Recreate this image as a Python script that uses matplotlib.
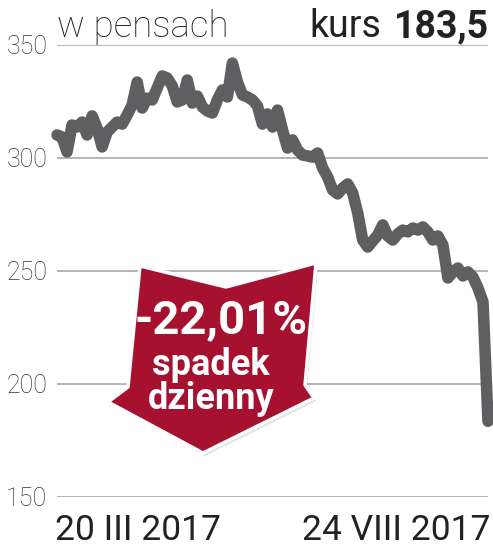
import matplotlib
matplotlib.use("Agg")
import matplotlib.pyplot as plt
import matplotlib.transforms as mtransforms
from matplotlib.patches import Polygon

plt.rcParams['font.family'] = ['Roboto', 'DejaVu Sans']

# kurs w pensach, 20 III 2017 - 24 VIII 2017
kurs = [310.2, 309.3, 302.7, 314.6, 313.7, 315.9, 310.2, 318.6, 313.3, 304.9,
        311.5, 313.7, 315.9, 315.0, 319.0, 323.5, 333.6, 322.1, 326.5, 325.7,
        331.0, 336.3, 335.4, 331.9, 324.8, 325.7, 334.5, 324.3, 327.4, 322.6,
        320.8, 319.9, 325.7, 330.1, 327.0, 342.0, 333.6, 327.9, 327.0, 325.7,
        323.0, 315.0, 319.5, 313.7, 321.2, 312.4, 304.4, 308.0, 303.5, 301.3,
        300.9, 300.4, 302.2, 295.6, 291.6, 285.8, 284.1, 286.7, 288.5, 284.5,
        275.7, 263.7, 260.6, 263.3, 265.9, 270.4, 265.5, 263.7, 266.4, 268.1,
        267.3, 269.0, 268.1, 269.5, 267.3, 263.7, 265.5, 261.5, 246.9, 249.6,
        251.3, 247.8, 249.6, 247.3, 242.5, 236.3, 183.5]
dni = list(range(len(kurs)))

y_ticks = [150, 200, 250, 300, 350]
x_labels = ["20 III 2017", "24 VIII 2017"]
ostatni = "183,5"
zmiana = "-22,01%"

W, H = 493, 549
fig = plt.figure(figsize=(W / 100, H / 100), dpi=100)
ax = fig.add_axes([57 / W, 1 - 497 / H, 431 / W, 452 / H])

for v in y_ticks:
    ax.axhline(v, color='#b4b4b4', lw=1.4, zorder=1)
ax.plot(dni, kurs, color='#5f5f61', lw=8.3, solid_capstyle='round',
        solid_joinstyle='round', zorder=3, clip_on=False)

ax.set_xlim(0, len(kurs) - 1)
ax.set_ylim(150, 350)
ax.set_yticks(y_ticks)
ax.set_yticklabels([str(v) for v in y_ticks], fontsize=18, color='#333333',
                   fontweight='light')
ax.tick_params(axis='y', length=0, pad=7)
ax.set_xticks([])
for s in ax.spines.values():
    s.set_visible(False)

# pixel coordinates, origin top-left
px = mtransforms.Affine2D().scale(1 / W, -1 / H).translate(0, 1) + fig.transFigure

fig.text(57, 37, "w pensach", transform=px, fontsize=26.5, color='#222222',
         fontweight='light', ha='left', va='baseline')
fig.text(381, 37, "kurs", transform=px, fontsize=27, color='#222222',
         ha='right', va='baseline')
fig.text(489, 37, ostatni, transform=px, fontsize=27, color='#222222',
         fontweight='bold', ha='right', va='baseline')
fig.text(55, 540, x_labels[0], transform=px, fontsize=25.5, color='#222222',
         ha='left', va='baseline')
fig.text(490, 540, x_labels[1], transform=px, fontsize=25.5, color='#222222',
         ha='right', va='baseline')

strzalka = [(140, 266), (226, 287), (316, 263), (305, 385), (314, 398),
            (203, 453), (108, 402), (128, 387)]
cien = [(x + 2, y + 3) for x, y in strzalka]
fig.patches.append(Polygon(cien, closed=True, transform=px, facecolor='#cccccc',
                           edgecolor='none', alpha=0.6, zorder=4))
fig.patches.append(Polygon(strzalka, closed=True, transform=px, facecolor='#a6112f',
                           edgecolor='white', lw=2.5, joinstyle='round', zorder=5))

fig.text(221, 333, zmiana, transform=px, fontsize=34, color='white',
         fontweight='bold', ha='center', va='baseline', zorder=6)
fig.text(211, 375, "spadek", transform=px, fontsize=26, color='white',
         fontweight='bold', ha='center', va='baseline', zorder=6)
fig.text(211, 409, "dzienny", transform=px, fontsize=26, color='white',
         fontweight='bold', ha='center', va='baseline', zorder=6)

fig.savefig("out.png", dpi=100)
